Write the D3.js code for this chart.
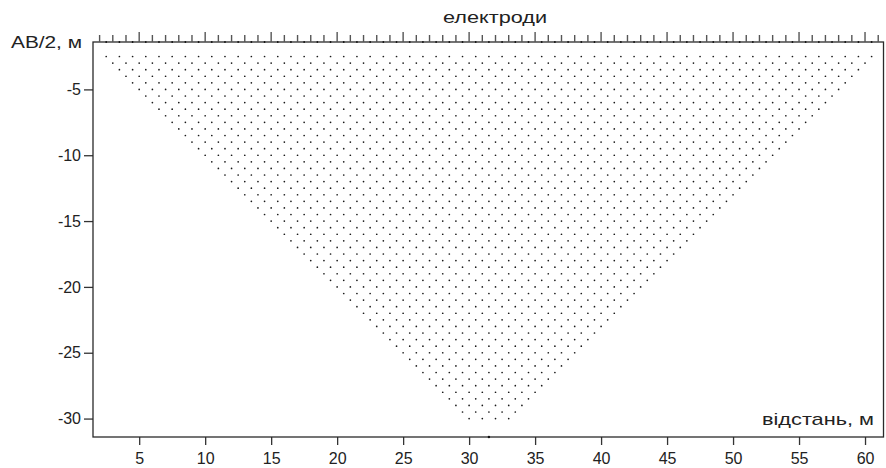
<!DOCTYPE html>
<html>
<head>
<meta charset="utf-8">
<script src="https://cdn.jsdelivr.net/npm/d3@7"></script>
<style>
  body { margin: 0; background: #fff; }
  svg { display: block; font-family: "Liberation Sans", Arial, sans-serif; }
</style>
</head>
<body>
<div id="chart"></div>
<script>
// pseudosection levels (AB/2, m) and the span of measuring points on each level
var depths = [2.5, 3, 3.5, 4, 4.5, 5, 5.5, 6, 6.5, 7, 7.5, 8, 8.5, 9, 9.5, 10,
  10.5, 11, 11.5, 12, 12.5, 13, 13.5, 14, 14.5, 15, 15.5, 16, 16.5, 17, 17.5, 18,
  18.5, 19, 19.5, 20, 20.5, 21, 21.5, 22, 22.5, 23, 23.5, 24, 24.5, 25, 25.5, 26,
  26.5, 27, 27.5, 28, 28.5, 29, 29.5, 30];
var rowFrom = [2.5, 3, 3.5, 4, 4.5, 5, 5.5, 6, 6.5, 7, 7.5, 8, 8.5, 9, 9.5, 10,
  10.5, 11, 11.5, 12, 12.5, 13, 13.5, 14, 14.5, 15, 15.5, 16, 16.5, 17, 17.5, 18,
  18.5, 19, 19.5, 20, 20.5, 21, 21.5, 22, 22.5, 23, 23.5, 24, 24.5, 25, 25.5, 26,
  26.5, 27, 27.5, 28, 28.5, 29, 29.5, 30];
var rowTo = [60.5, 60, 59.5, 59, 58.5, 58, 57.5, 57, 56.5, 56, 55.5, 55, 54.5, 54,
  53.5, 53, 52.5, 52, 51.5, 51, 50.5, 50, 49.5, 49, 48.5, 48, 47.5, 47, 46.5, 46,
  45.5, 45, 44.5, 44, 43.5, 43, 42.5, 42, 41.5, 41, 40.5, 40, 39.5, 39, 38.5, 38,
  37.5, 37, 36.5, 36, 35.5, 35, 34.5, 34, 33.5, 33];
var pointStep = 1;

// electrode positions along the profile, m
var electrodes = [2, 3, 4, 5, 6, 7, 8, 9, 10, 11, 12, 13, 14, 15, 16, 17, 18, 19,
  20, 21, 22, 23, 24, 25, 26, 27, 28, 29, 30, 31, 32, 33, 34, 35, 36, 37, 38, 39,
  40, 41, 42, 43, 44, 45, 46, 47, 48, 49, 50, 51, 52, 53, 54, 55, 56, 57, 58, 59,
  60, 61];

var xTicks = [5, 10, 15, 20, 25, 30, 35, 40, 45, 50, 55, 60];
var yTicks = [-5, -10, -15, -20, -25, -30];
var profileCenter = [31.5];

var width = 886, height = 468;
var margin = { top: 42, right: 2.5, bottom: 31, left: 93 };

var svg = d3.select("#chart").append("svg")
  .attr("width", width)
  .attr("height", height);

var x = d3.scaleLinear()
  .domain([1.5, 61.4])
  .range([margin.left, width - margin.right]);

var y = d3.scaleLinear()
  .domain([-31.4, -1.4])
  .range([height - margin.bottom, margin.top]);

// measuring points
var points = [];
depths.forEach(function(d, i) {
  d3.range(rowFrom[i], rowTo[i] + 0.001, pointStep).forEach(function(px) {
    points.push({ x: px, y: -d });
  });
});

svg.append("g").selectAll("circle")
  .data(points)
  .enter().append("circle")
  .attr("cx", function(d) { return x(d.x); })
  .attr("cy", function(d) { return y(d.y); })
  .attr("r", 0.85)
  .attr("fill", "#1a1a1a");

// axes (plain hyphen for negatives, like the original)
var plain = function(d) { return String(d); };

var xAxis = d3.axisBottom(x)
  .tickValues(xTicks)
  .tickFormat(plain)
  .tickSize(8)
  .tickSizeOuter(0)
  .tickPadding(7.5);

var yAxis = d3.axisLeft(y)
  .tickValues(yTicks)
  .tickFormat(plain)
  .tickSize(9)
  .tickSizeOuter(0)
  .tickPadding(3);

var gx = svg.append("g")
  .attr("transform", "translate(0," + (height - margin.bottom) + ")")
  .call(xAxis);
var gy = svg.append("g")
  .attr("transform", "translate(" + margin.left + ",0)")
  .call(yAxis);

[gx, gy].forEach(function(g) {
  g.select(".domain").remove();
  g.selectAll(".tick line").attr("stroke", "#333").attr("stroke-width", 1.3);
  g.selectAll(".tick text")
    .attr("fill", "#222")
    .style("font-size", "16px");
});

// frame
svg.append("rect")
  .attr("x", x.range()[0])
  .attr("y", y.range()[1])
  .attr("width", x.range()[1] - x.range()[0])
  .attr("height", y.range()[0] - y.range()[1])
  .attr("fill", "none")
  .attr("stroke", "#2a2a2a")
  .attr("stroke-width", 1.3);

// electrodes on the top edge
svg.append("g").selectAll("line")
  .data(electrodes)
  .enter().append("line")
  .attr("x1", function(d) { return x(d); })
  .attr("x2", function(d) { return x(d); })
  .attr("y1", y.range()[1])
  .attr("y2", function(d) { return y.range()[1] - (d % 5 === 0 ? 10 : 7); })
  .attr("stroke", "#555")
  .attr("stroke-width", 1.4);

var mids = electrodes.slice(1).map(function(d, i) { return (d + electrodes[i]) / 2; });
svg.append("g").selectAll("circle")
  .data(mids)
  .enter().append("circle")
  .attr("cx", function(d) { return x(d); })
  .attr("cy", y.range()[1])
  .attr("r", 0.9)
  .attr("fill", "#111");

svg.append("g").selectAll("circle")
  .data(profileCenter)
  .enter().append("circle")
  .attr("cx", function(d) { return x(d); })
  .attr("cy", y.range()[0])
  .attr("r", 1.2)
  .attr("fill", "#111");

// labels
svg.append("text")
  .attr("x", 443)
  .attr("y", 23)
  .attr("textLength", 104)
  .attr("lengthAdjust", "spacingAndGlyphs")
  .attr("fill", "#222")
  .style("font-size", "17px")
  .text("електроди");

svg.append("text")
  .attr("x", 11)
  .attr("y", 47.5)
  .attr("textLength", 71)
  .attr("lengthAdjust", "spacingAndGlyphs")
  .attr("fill", "#222")
  .style("font-size", "17px")
  .text("АВ/2, м");

svg.append("text")
  .attr("x", 762)
  .attr("y", 425)
  .attr("textLength", 112)
  .attr("lengthAdjust", "spacingAndGlyphs")
  .attr("fill", "#222")
  .style("font-size", "17px")
  .text("відстань, м");
</script>
</body>
</html>
